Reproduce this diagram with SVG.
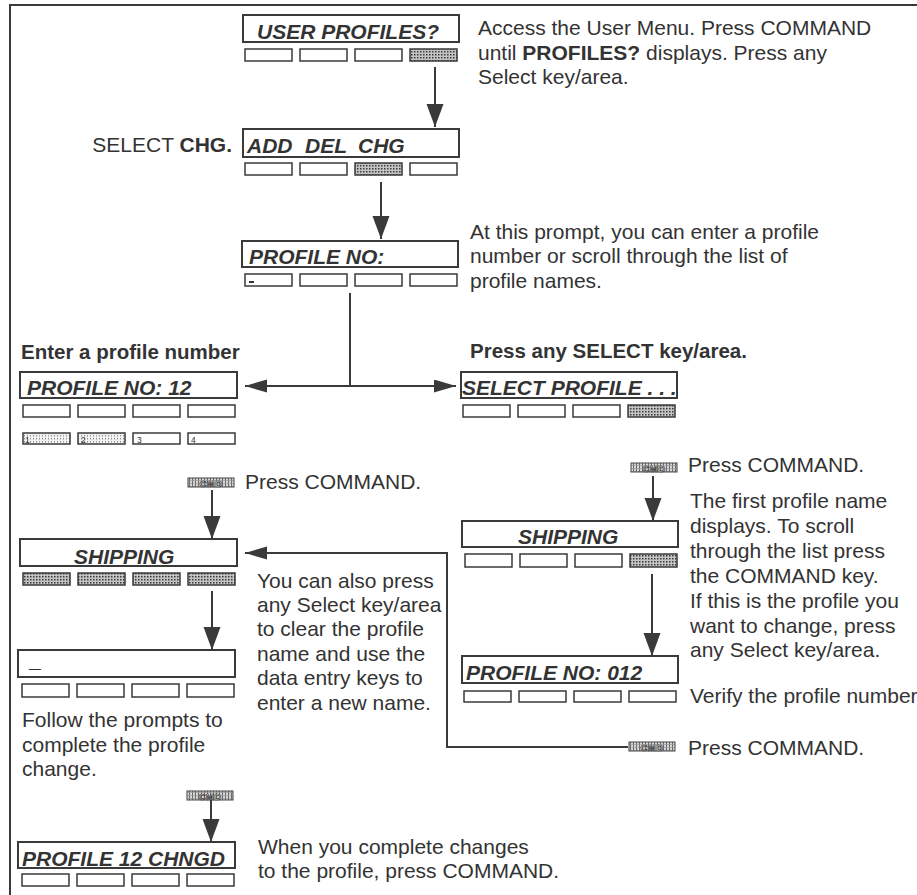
<svg xmlns="http://www.w3.org/2000/svg" width="917" height="895" viewBox="0 0 917 895">
<style>
.t{font-family:"Liberation Sans",Arial,sans-serif;font-size:21px;fill:#333}
.h{font-family:"Liberation Sans",Arial,sans-serif;font-size:20.5px;font-weight:bold;fill:#333}
.d{font-family:"Liberation Sans",Arial,sans-serif;font-size:21px;font-weight:bold;font-style:italic;fill:#333}
.n{font-family:"Liberation Sans",Arial,sans-serif;font-size:8.5px;fill:#333}
.c{font-family:"Liberation Sans",Arial,sans-serif;font-size:9.5px;font-weight:bold;fill:#fff;stroke:#333;stroke-width:0.7;text-anchor:middle;letter-spacing:0.5px}
.box{fill:#fff;stroke:#3a3a3a;stroke-width:2}
.key{fill:#fff;stroke:#3a3a3a;stroke-width:1.5}
.kp{fill:url(#stip);stroke:#3a3a3a;stroke-width:1.5}
.kg{fill:url(#grid);stroke:#3a3a3a;stroke-width:1.5}
.cmd{fill:url(#grid2);stroke:#444;stroke-width:1}
.ln{fill:none;stroke:#3a3a3a;stroke-width:2}
.av{marker-end:url(#av)}
.ah{marker-end:url(#ah)}
</style>
<defs>
<pattern id="stip" width="3" height="3" patternUnits="userSpaceOnUse">
<rect width="3" height="3" fill="#c4c4c4"/>
<rect width="1.5" height="1.5" fill="#3a3a3a"/>
</pattern>
<pattern id="grid" width="3" height="3" patternUnits="userSpaceOnUse">
<rect width="3" height="3" fill="#f2f2f2"/>
<rect width="0.8" height="1.5" fill="#777"/>
</pattern>
<pattern id="grid2" width="3" height="3" patternUnits="userSpaceOnUse">
<rect width="3" height="3" fill="#d8d8d8"/>
<rect width="1" height="3" fill="#666"/>
<rect width="3" height="0.7" fill="#999"/>
</pattern>
<marker id="av" markerUnits="userSpaceOnUse" markerWidth="24" markerHeight="18" refX="23" refY="8.5" orient="auto">
<path d="M0,0 L23,8.5 L0,17 Z" fill="#3a3a3a"/>
</marker>
<marker id="ah" markerUnits="userSpaceOnUse" markerWidth="23" markerHeight="14" refX="22" refY="6.5" orient="auto">
<path d="M0,0 L22,6.5 L0,13 Z" fill="#3a3a3a"/>
</marker>
</defs>
<rect width="917" height="895" fill="#fff"/>
<path class="ln" d="M10,895 V5 H917"/>

<g id="connectors">
<line class="ln av" x1="435" y1="67" x2="435" y2="127"/>
<line class="ln av" x1="381" y1="182" x2="381" y2="239"/>
<path class="ln" d="M350,293 V386"/>
<line class="ln ah" x1="351" y1="386" x2="245" y2="386"/>
<line class="ln ah" x1="349" y1="386" x2="456" y2="386"/>
<line class="ln av" x1="212" y1="490" x2="212" y2="539"/>
<line class="ln av" x1="212" y1="591" x2="212" y2="650"/>
<line class="ln av" x1="653" y1="476" x2="653" y2="521"/>
<line class="ln av" x1="652" y1="574" x2="652" y2="656"/>
<path class="ln ah" d="M628,747 H447 V553 H245"/>
<line class="ln av" x1="211" y1="800" x2="211" y2="842"/>
</g>

<g id="n-user-profiles">
<rect class="box" x="243" y="15" width="216" height="27"/>
<text class="d" x="257" y="39">USER PROFILES?</text>
<rect class="key" x="245" y="49" width="47" height="12"/>
<rect class="key" x="300" y="49" width="47" height="12"/>
<rect class="key" x="355" y="49" width="47" height="12"/>
<rect class="kp" x="410" y="49" width="47" height="12"/>
</g>

<g id="n-add-del-chg">
<rect class="box" x="243" y="129" width="216" height="28"/>
<text class="d" y="153"><tspan x="247">ADD</tspan><tspan x="305">DEL</tspan><tspan x="358">CHG</tspan></text>
<rect class="key" x="245" y="163" width="47" height="12"/>
<rect class="key" x="300" y="163" width="47" height="12"/>
<rect class="kp" x="355" y="163" width="47" height="12"/>
<rect class="key" x="410" y="163" width="47" height="12"/>
</g>

<g id="n-profile-no">
<rect class="box" x="242" y="241" width="216" height="26"/>
<text class="d" x="249" y="264">PROFILE NO:</text>
<rect class="key" x="245" y="274" width="47" height="12"/>
<rect x="249" y="281" width="5" height="2" fill="#333"/>
<rect class="key" x="300" y="274" width="47" height="12"/>
<rect class="key" x="355" y="274" width="47" height="12"/>
<rect class="key" x="410" y="274" width="47" height="12"/>
</g>

<g id="n-profile-no-12">
<rect class="box" x="20" y="372" width="217" height="26"/>
<text class="d" x="27" y="395">PROFILE NO: 12</text>
<rect class="key" x="23" y="405" width="47" height="12"/>
<rect class="key" x="78" y="405" width="47" height="12"/>
<rect class="key" x="133" y="405" width="47" height="12"/>
<rect class="key" x="188" y="405" width="47" height="12"/>
<rect class="kg" x="23" y="433" width="47" height="11"/>
<rect class="kg" x="78" y="433" width="47" height="11"/>
<rect class="key" x="133" y="433" width="47" height="11"/>
<rect class="key" x="188" y="433" width="47" height="11"/>
<text class="n" x="25" y="443">1</text>
<text class="n" x="81" y="443">2</text>
<text class="n" x="137" y="443">3</text>
<text class="n" x="191" y="443">4</text>
</g>

<g id="n-select-profile">
<rect class="box" x="461" y="372" width="216" height="26"/>
<text class="d" x="462" y="395">SELECT PROFILE . . .</text>
<rect class="key" x="463" y="405" width="47" height="12"/>
<rect class="key" x="518" y="405" width="47" height="12"/>
<rect class="key" x="573" y="405" width="47" height="12"/>
<rect class="kp" x="628" y="405" width="47" height="12"/>
</g>

<g id="n-cmd-left">
<rect class="cmd" x="188" y="478" width="46" height="9"/>
<text class="c" x="211" y="486.5">CMD</text>
</g>
<g id="n-cmd-right">
<rect class="cmd" x="631" y="463" width="46" height="9"/>
<text class="c" x="654" y="471.5">CMD</text>
</g>
<g id="n-cmd-bottom-right">
<rect class="cmd" x="629" y="742" width="46" height="9"/>
<text class="c" x="652" y="750.5">CMD</text>
</g>
<g id="n-cmd-bottom-left">
<rect class="cmd" x="187" y="791" width="46" height="9"/>
<text class="c" x="210" y="799.5">CMD</text>
</g>

<g id="n-shipping-left">
<rect class="box" x="20" y="539" width="217" height="27"/>
<text class="d" x="74" y="564">SHIPPING</text>
<rect class="kp" x="23" y="573" width="47" height="12"/>
<rect class="kp" x="78" y="573" width="47" height="12"/>
<rect class="kp" x="133" y="573" width="47" height="12"/>
<rect class="kp" x="188" y="573" width="47" height="12"/>
</g>

<g id="n-shipping-right">
<rect class="box" x="462" y="521" width="216" height="26"/>
<text class="d" x="518" y="544">SHIPPING</text>
<rect class="key" x="465" y="554" width="47" height="13"/>
<rect class="key" x="520" y="554" width="47" height="13"/>
<rect class="key" x="575" y="554" width="47" height="13"/>
<rect class="kp" x="630" y="554" width="47" height="13"/>
</g>

<g id="n-name-entry">
<rect class="box" x="18" y="650" width="217" height="27"/>
<text class="d" x="30" y="667">_</text>
<rect class="key" x="22" y="684" width="47" height="13"/>
<rect class="key" x="77" y="684" width="47" height="13"/>
<rect class="key" x="132" y="684" width="47" height="13"/>
<rect class="key" x="187" y="684" width="47" height="13"/>
</g>

<g id="n-profile-no-012">
<rect class="box" x="462" y="656" width="216" height="27"/>
<text class="d" x="466" y="680">PROFILE NO: 012</text>
<rect class="key" x="464" y="691" width="47" height="11"/>
<rect class="key" x="519" y="691" width="47" height="11"/>
<rect class="key" x="574" y="691" width="47" height="11"/>
<rect class="key" x="629" y="691" width="47" height="11"/>
</g>

<g id="n-profile-12-chngd">
<rect class="box" x="18" y="842" width="217" height="26"/>
<text class="d" x="22" y="866">PROFILE 12 CHNGD</text>
<rect class="key" x="22" y="874" width="47" height="12"/>
<rect class="key" x="77" y="874" width="47" height="12"/>
<rect class="key" x="132" y="874" width="47" height="12"/>
<rect class="key" x="187" y="874" width="47" height="12"/>
</g>

<g id="labels">
<text class="t" x="478" y="35">Access the User Menu. Press COMMAND</text>
<text class="t" x="478" y="60">until <tspan font-weight="bold">PROFILES?</tspan> displays. Press any</text>
<text class="t" x="478" y="84">Select key/area.</text>
<text class="t" x="232" y="152" text-anchor="end">SELECT <tspan font-weight="bold">CHG.</tspan></text>
<text class="t" x="470" y="239">At this prompt, you can enter a profile</text>
<text class="t" x="470" y="263">number or scroll through the list of</text>
<text class="t" x="470" y="288">profile names.</text>
<text class="h" x="21" y="359">Enter a profile number</text>
<text class="h" x="470" y="358">Press any SELECT key/area.</text>
<text class="t" x="245" y="489">Press COMMAND.</text>
<text class="t" x="688" y="472">Press COMMAND.</text>
<text class="t" x="690" y="508">The first profile name</text>
<text class="t" x="690" y="533">displays. To scroll</text>
<text class="t" x="690" y="558">through the list press</text>
<text class="t" x="690" y="583">the COMMAND key.</text>
<text class="t" x="690" y="608">If this is the profile you</text>
<text class="t" x="690" y="633">want to change, press</text>
<text class="t" x="690" y="657">any Select key/area.</text>
<text class="t" x="690" y="703">Verify the profile number</text>
<text class="t" x="688" y="755">Press COMMAND.</text>
<text class="t" x="257" y="588">You can also press</text>
<text class="t" x="257" y="612">any Select key/area</text>
<text class="t" x="257" y="636">to clear the profile</text>
<text class="t" x="257" y="661">name and use the</text>
<text class="t" x="257" y="685">data entry keys to</text>
<text class="t" x="257" y="710">enter a new name.</text>
<text class="t" x="22" y="727">Follow the prompts to</text>
<text class="t" x="22" y="752">complete the profile</text>
<text class="t" x="22" y="776">change.</text>
<text class="t" x="258" y="854">When you complete changes</text>
<text class="t" x="258" y="878">to the profile, press COMMAND.</text>
</g>
</svg>
